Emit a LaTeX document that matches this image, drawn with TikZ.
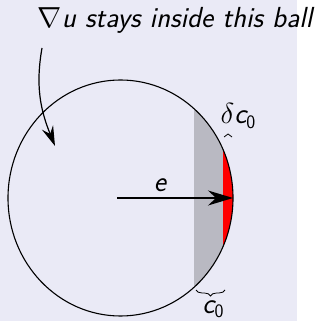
\RequirePackage{fix-cm}
\documentclass[tikz,border=0pt]{standalone}
\usepackage{fontspec}
\usetikzlibrary{arrows.meta,decorations.pathreplacing}
\definecolor{bgc}{RGB}{234,234,246}
\definecolor{shadec}{RGB}{185,185,194}
\tikzset{
  lbl/.style={font=\fontsize{29}{35}\selectfont\sffamily\itshape, inner sep=0pt},
  ballline/.style={draw=black, line width=1.1pt},
  bigpointer/.style={line width=1.4pt, -{Stealth[length=25pt,width=15pt,inset=8pt]}},
  curvepointer/.style={line width=1.2pt, -{Stealth[length=20pt,width=12pt,inset=7pt]}},
  bracedown/.style={line width=0.8pt, decorate, decoration={brace, amplitude=6pt, mirror}},
  braceup/.style={line width=0.8pt, decorate, decoration={brace, amplitude=3pt}}
}
\newcommand{\subzero}{\raisebox{-0.16em}{\upshape\fontsize{19}{22}\selectfont 0}}
\begin{document}
\begin{tikzpicture}[x=1pt,y=1pt]
  \useasboundingbox (0,0) rectangle (323,321);
  \fill[bgc] (0,0) rectangle (297,321);
  \begin{scope}
    \clip (120.5,123) ellipse [x radius=112.5pt, y radius=118pt];
    \fill[shadec] (194,0) rectangle (300,321);
    \fill[red] (223,0) rectangle (300,321);
  \end{scope}
  \draw[ballline] (120.5,123) ellipse [x radius=112.5pt, y radius=118pt];
  \coordinate (o) at (117,123);
  \coordinate (r) at (233,123);
  \draw[bigpointer] (o) -- (r);
  \node[lbl, anchor=base] (elab) at (160,129) {e};
  \node[lbl, anchor=base] (title) at (175,293) {$\nabla$u stays inside this ball};
  \coordinate (s) at (42,273);
  \coordinate (t) at (55,175);
  \draw[curvepointer] (s) to[out=-100,in=112] (t);
  \coordinate (b1) at (196,31);
  \coordinate (b2) at (225,31);
  \draw[bracedown] (b1) -- (b2);
  \node[lbl, anchor=base] (c0) at (213,8) {c\subzero};
  \coordinate (d1) at (224,184);
  \coordinate (d2) at (232,184);
  \draw[braceup] (d1) -- (d2);
  \node[lbl, anchor=base] (dc0) at (238,197) {$\delta$c\subzero};
\end{tikzpicture}
\end{document}
